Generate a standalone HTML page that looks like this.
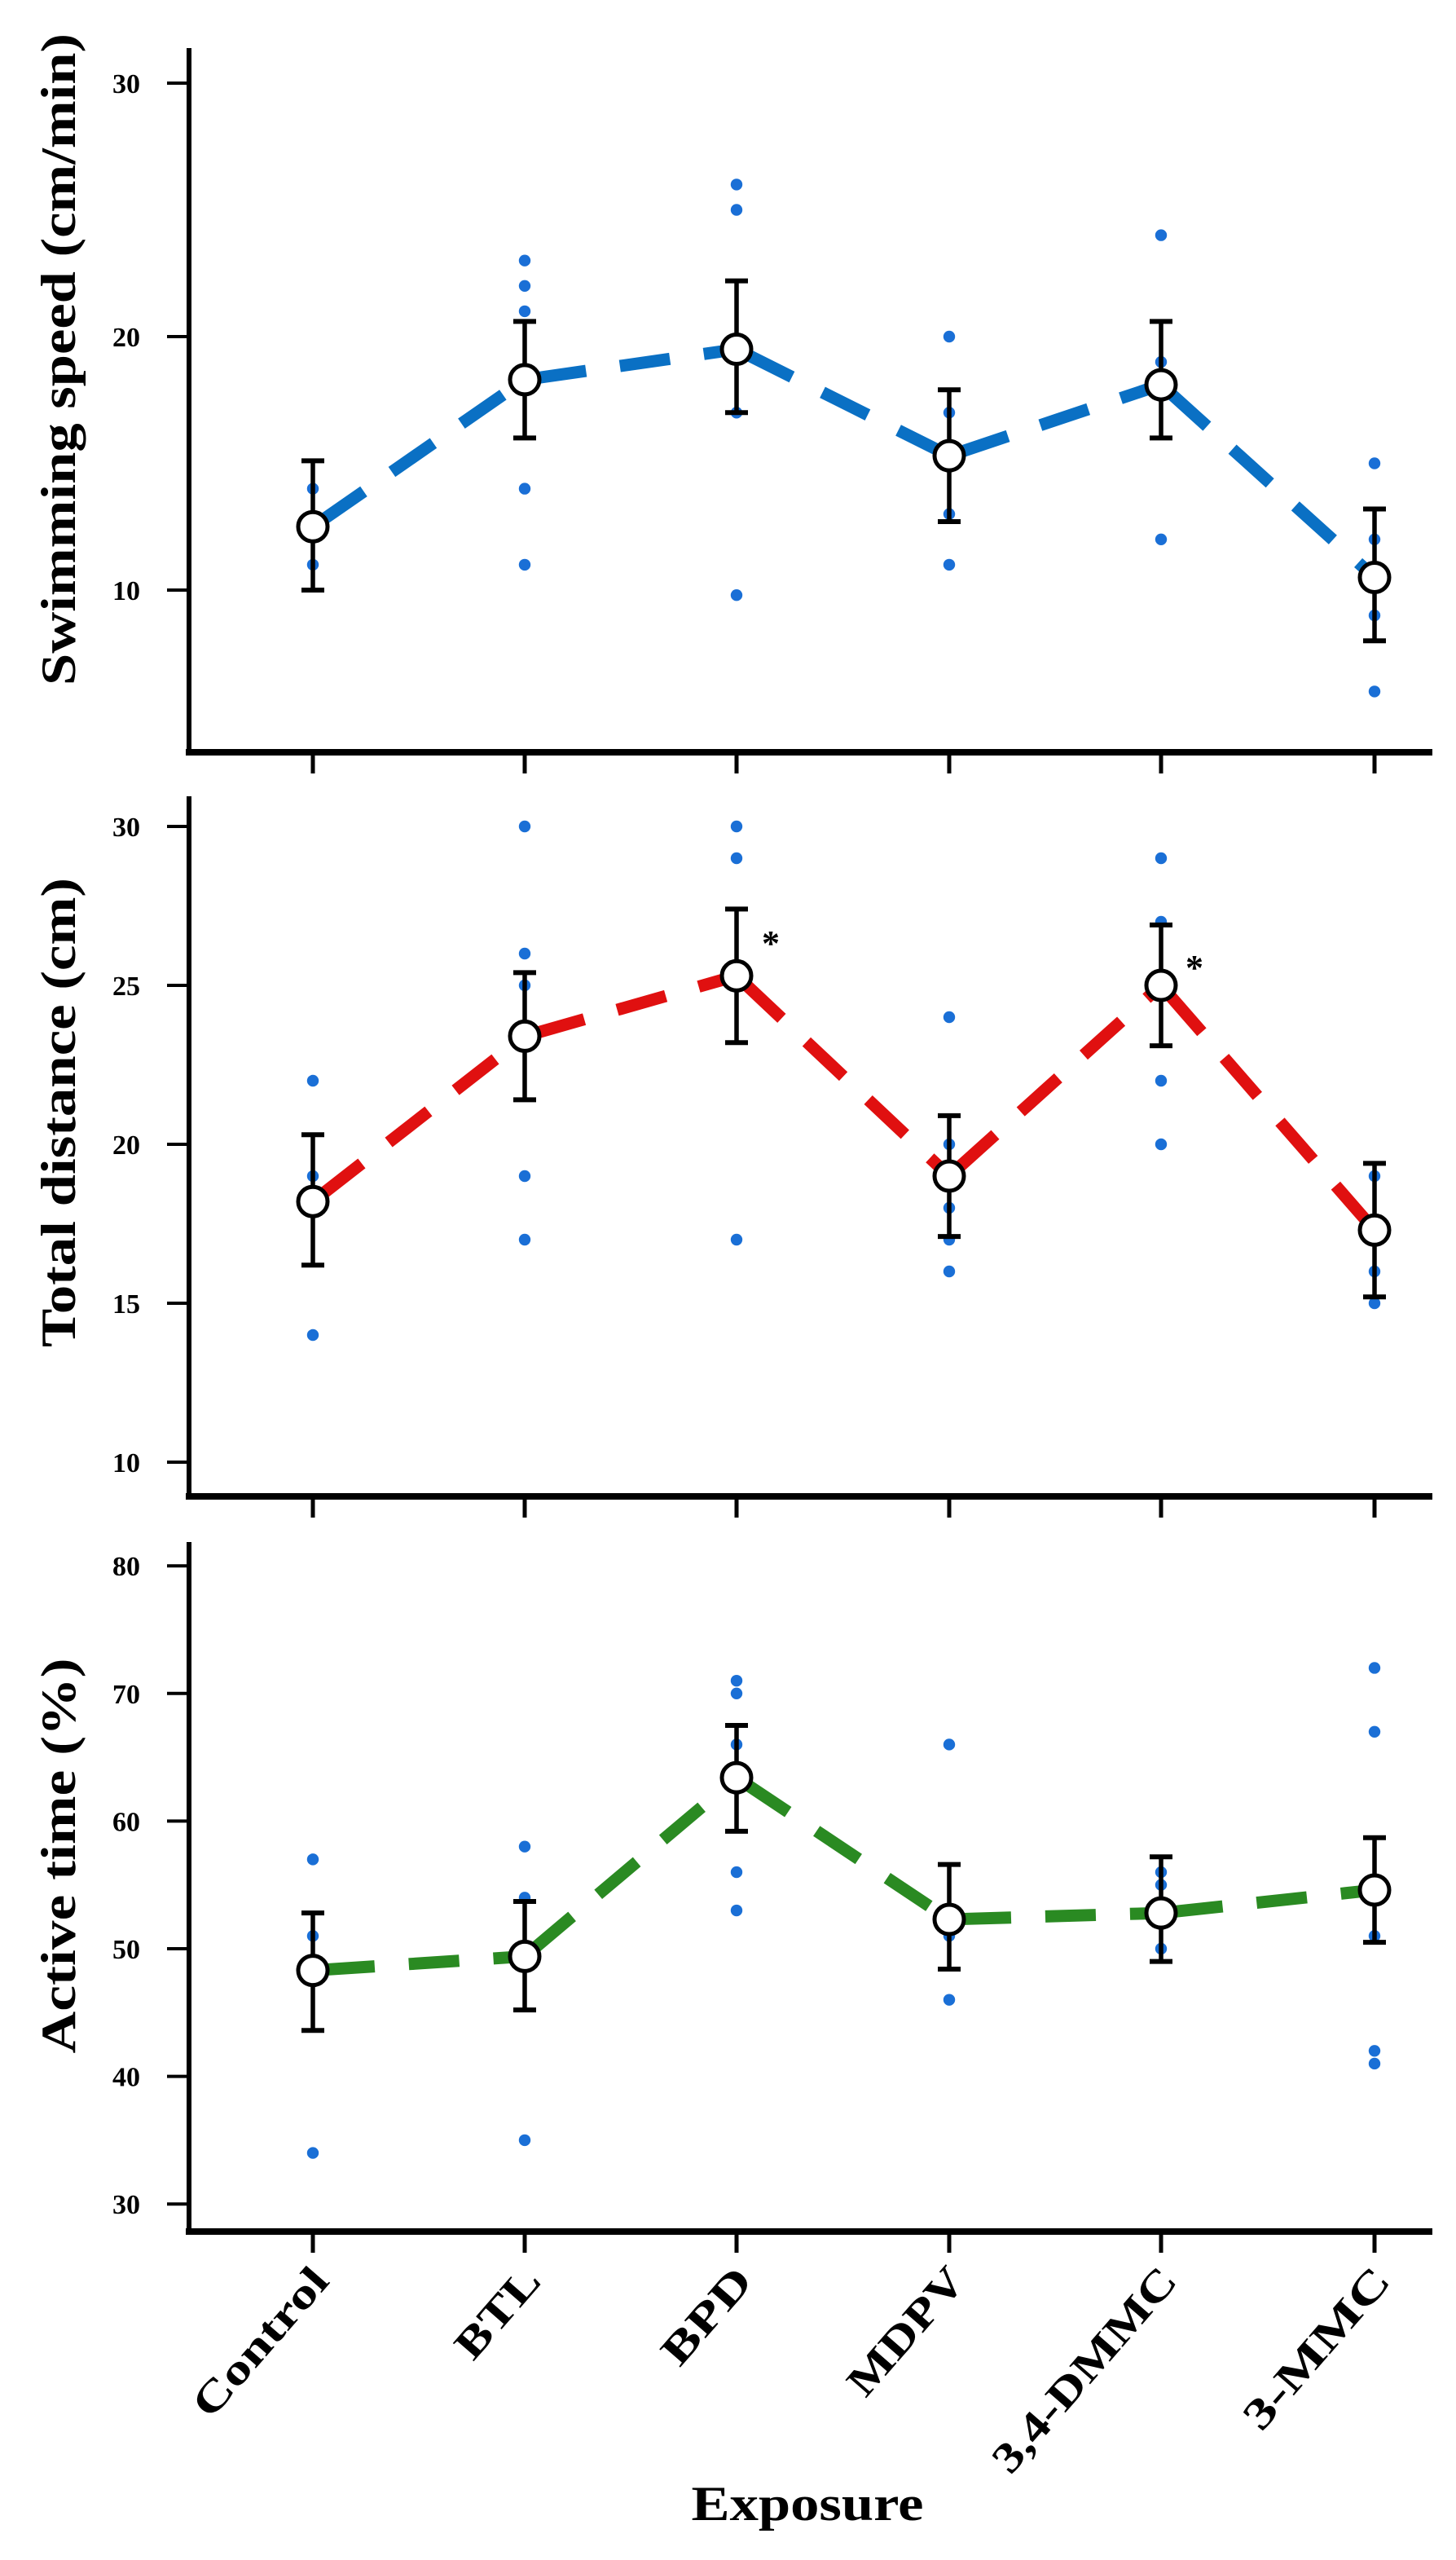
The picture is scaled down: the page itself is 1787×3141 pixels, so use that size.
<!DOCTYPE html>
<html><head><meta charset="utf-8"><style>
html,body{margin:0;padding:0;background:#fff;}
svg{display:block;}
text{font-family:"Liberation Serif",serif;font-weight:bold;fill:#000;}
</style></head><body>
<svg id="s" width="1787" height="3141" viewBox="0 0 1787 3141" xmlns="http://www.w3.org/2000/svg">
<g id="g"></g>
</svg>
<script>
var NS="http://www.w3.org/2000/svg";
var g=document.getElementById('g');
function el(t,a,txt){var e=document.createElementNS(NS,t);for(var k in a)e.setAttribute(k,a[k]);if(txt!==undefined)e.textContent=txt;g.appendChild(e);return e;}
var X=[384,644,904,1165,1425,1687];
var panels=[
 {top:59,bot:923,ax:232,v0:20,y0:413,ppu:31.1,ticks:[10,20,30],col:"#0a70c4",
  title:"Swimming speed (cm/min)",tc:441,tl:800,
  m:[12.5,18.3,19.5,15.3,18.1,10.5],
  e:[[10,15.1],[16,20.6],[17,22.2],[12.7,17.9],[16,20.6],[8,13.2]],
  d:[[14,11],[23,22,21,14,11],[26,25,17,9.8],[20,17,13,11],[24,19,12],[15,12,9,6]]},
 {top:977,bot:1836,ax:232,v0:20,y0:1404,ppu:39.0,ticks:[10,15,20,25,30],col:"#e01010",
  title:"Total distance (cm)",tc:1365,tl:576,
  m:[18.2,23.4,25.3,19.0,25.0,17.3],
  e:[[16.2,20.3],[21.4,25.4],[23.2,27.4],[17.1,20.9],[23.1,26.9],[15.2,19.4]],
  d:[[22,19,14],[30,26,25,19,17],[30,29,17],[24,20,18,17,16],[29,27,22,20],[19,16,15]]},
 {top:1892,bot:2738,ax:232,v0:50,y0:2391,ppu:15.66,ticks:[30,40,50,60,70,80],col:"#2a8a22",
  title:"Active time (%)",tc:2277,tl:485,
  m:[48.3,49.4,63.4,52.3,52.8,54.6],
  e:[[43.6,52.8],[45.2,53.7],[59.2,67.5],[48.4,56.6],[49,57.2],[50.5,58.7]],
  d:[[57,51,34],[58,54,35],[71,70,66,56,53],[66,51,46],[56,55,50],[72,67,51,42,41]]}
];
panels.forEach(function(p,pi){
 function Y(v){return p.y0-(v-p.v0)*p.ppu;}
 el('line',{x1:p.ax,y1:p.top,x2:p.ax,y2:p.bot+4,stroke:'#000','stroke-width':6});
 el('line',{x1:p.ax-4,y1:p.bot,x2:1758,y2:p.bot,stroke:'#000','stroke-width':8});
 p.ticks.forEach(function(t){var y=Y(t);
  el('line',{x1:205,y1:y,x2:p.ax,y2:y,stroke:'#000','stroke-width':4});
  el('text',{x:172,y:y+12,'font-size':34,'text-anchor':'end'},String(t));});
 X.forEach(function(x){el('line',{x1:x,y1:p.bot,x2:x,y2:p.bot+26,stroke:'#000','stroke-width':5});});
 el('text',{x:0,y:0,'font-size':60,'text-anchor':'middle',textLength:p.tl,lengthAdjust:'spacingAndGlyphs',
  transform:'translate(92,'+p.tc+') rotate(-90)'},p.title);
 p.d.forEach(function(arr,i){arr.forEach(function(v){el('circle',{cx:X[i],cy:Y(v),r:7.2,fill:'#1a6fd6'});});});
 for(var i=0;i<5;i++){
  var x1=X[i],y1=Y(p.m[i]),x2=X[i+1],y2=Y(p.m[i+1]);
  var dx=x2-x1,dy=y2-y1,L=Math.sqrt(dx*dx+dy*dy),ux=dx/L,uy=dy/L;
  el('line',{x1:x1+ux*14,y1:y1+uy*14,x2:x2-ux*14,y2:y2-uy*14,stroke:p.col,'stroke-width':15,'stroke-dasharray':'62 42'});
 }
 p.m.forEach(function(m,i){var x=X[i],lo=Y(p.e[i][0]),hi=Y(p.e[i][1]);
  el('line',{x1:x,y1:hi,x2:x,y2:lo,stroke:'#000','stroke-width':5.5});
  el('line',{x1:x-14,y1:hi,x2:x+14,y2:hi,stroke:'#000','stroke-width':6});
  el('line',{x1:x-14,y1:lo,x2:x+14,y2:lo,stroke:'#000','stroke-width':6});
  el('circle',{cx:x,cy:Y(m),r:18,fill:'#fff',stroke:'#000','stroke-width':5});
 });
});
el('text',{x:946,y:1172,'font-size':44,'text-anchor':'middle'},'*');
el('text',{x:1466,y:1202,'font-size':44,'text-anchor':'middle'},'*');
var labs=[["Control",225],["BTL",130],["BPD",140],["MDPV",190],["3,4-DMMC",315],["3-MMC",245]];
labs.forEach(function(l,i){
 el('text',{x:0,y:0,'font-size':52,'text-anchor':'end',textLength:l[1],lengthAdjust:'spacingAndGlyphs',
  transform:'translate('+(X[i]+22)+',2800) rotate(-49)'},l[0]);
});
el('text',{x:991,y:3092,'font-size':60,'text-anchor':'middle',textLength:285,lengthAdjust:'spacingAndGlyphs'},'Exposure');
</script>
</body></html>
